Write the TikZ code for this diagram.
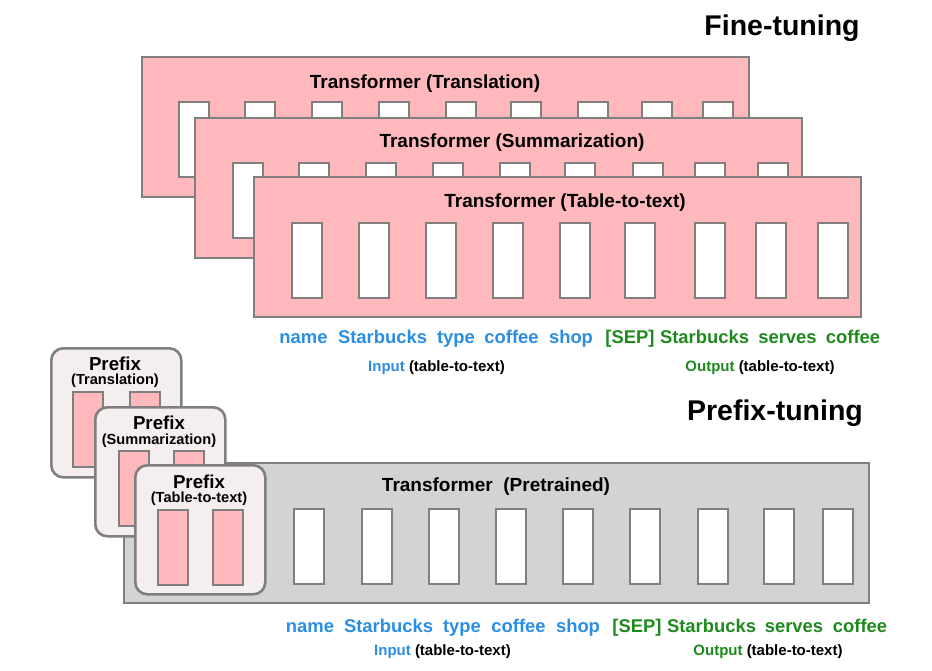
\documentclass[tikz,border=0pt]{standalone}
\usepackage{fontspec}
\setmainfont{Liberation Sans}
\definecolor{pinkfill}{HTML}{FFB8BB}
\definecolor{bordergray}{HTML}{7F7F7F}
\definecolor{prefixfill}{HTML}{F4EEEE}
\definecolor{grayfill}{HTML}{D3D3D3}
\definecolor{inblue}{HTML}{2A8EE2}
\definecolor{outgreen}{HTML}{1E8A1E}
\begin{document}
\begin{tikzpicture}[x=1pt,y=-1pt,
  tbox/.style={draw=bordergray, fill=pinkfill, line width=2pt, anchor=north west,
    minimum width=607pt, minimum height=140pt, inner sep=0pt},
  gbox/.style={tbox, fill=grayfill, minimum width=745pt},
  slot/.style={draw=bordergray, fill=white, line width=1.6pt, anchor=north west,
    minimum width=30pt, minimum height=75pt, inner sep=0pt},
  pslot/.style={slot, fill=pinkfill},
  pbox/.style={draw=bordergray, fill=prefixfill, line width=2.6pt, rounded corners=12pt,
    anchor=north west, minimum width=130pt, minimum height=129pt, inner sep=0pt},
  ttl/.style={font=\bfseries\fontsize{19}{22}\selectfont, inner sep=0pt, anchor=base},
  big/.style={font=\bfseries\fontsize{28.5}{32}\selectfont, inner sep=0pt},
  tok/.style={font=\bfseries\fontsize{18.4}{21}\selectfont, inner sep=0pt, anchor=base},
  intok/.style={tok, text=inblue},
  outtok/.style={tok, text=outgreen},
  lbl/.style={font=\bfseries\fontsize{15}{18}\selectfont, inner sep=0pt, anchor=base},
  pttl/.style={font=\bfseries\fontsize{18.7}{21}\selectfont, inner sep=0pt, anchor=base},
  psub/.style={font=\bfseries\fontsize{14.6}{17}\selectfont, inner sep=0pt, anchor=base},
]
\useasboundingbox (0,0) rectangle (932,670);

% ---------------- Fine-tuning ----------------
\node[big] (ft) at (782,28) {Fine-tuning};

\node[tbox] (tr) at (141,56) {};
\node[ttl] (trt) at (425,88.5) {Transformer (Translation)};
\foreach \o [count=\i] in {37,103,170,237,304,369,436,500,561}
  \node[slot] (tr-s\i) at ({141+\o},101) {};

\node[tbox] (su) at (194,117) {};
\node[ttl] (sut) at (512,147.5) {Transformer (Summarization)};
\foreach \o [count=\i] in {38,104,171,238,305,370,438,500,563}
  \node[slot] (su-s\i) at ({194+\o},162) {};

\node[tbox] (tb) at (253,176) {};
\node[ttl] (tbt) at (565,207.5) {Transformer (Table-to-text)};
\foreach \o [count=\i] in {38,105,172,239,306,371,441,502,564}
  \node[slot] (tb-s\i) at ({253+\o},222) {};

% tokens (fine-tuning)
\node[intok] (a1) at (303.5,343.5) {name};
\node[intok] (a2) at (382.5,343.5) {Starbucks};
\node[intok] (a3) at (456,343.5) {type};
\node[intok] (a4) at (511.5,343.5) {coffee};
\node[intok] (a5) at (571,343.5) {shop};
\node[outtok] (a6) at (630,343.5) {[SEP]};
\node[outtok] (a7) at (704.5,343.5) {Starbucks};
\node[outtok] (a8) at (787.5,343.5) {serves};
\node[outtok] (a9) at (853,343.5) {coffee};
\node[lbl] (ain) at (436.5,371.5) {\textcolor{inblue}{Input} (table-to-text)};
\node[lbl] (aout) at (760,371.5) {\textcolor{outgreen}{Output} (table-to-text)};

% ---------------- Prefix-tuning ----------------
\node[big] (pt) at (775,413) {Prefix-tuning};

\node[gbox] (pre) at (123,462) {};
\node[ttl] (pret) at (496,491.5) {Transformer\ \ (Pretrained)};
\foreach \x [count=\i] in {293,361,428,495,562,629,697,763,822}
  \node[slot] (pre-s\i) at (\x,508) {};

\node[pbox] (p1) at (50,347) {};
\node[pttl] (p1t) at (115,370) {Prefix};
\node[psub] (p1u) at (115,384.5) {(Translation)};
\node[pslot] (p1-a) at (72,391) {};
\node[pslot] (p1-b) at (129,391) {};

\node[pbox] (p2) at (94,406) {};
\node[pttl] (p2t) at (159,429) {Prefix};
\node[psub] (p2u) at (159,444.5) {(Summarization)};
\node[pslot] (p2-a) at (118,450) {};
\node[pslot] (p2-b) at (173,450) {};

\node[pbox] (p3) at (134,464) {};
\node[pttl] (p3t) at (199,488) {Prefix};
\node[psub] (p3u) at (199,502.5) {(Table-to-text)};
\node[pslot] (p3-a) at (157,509) {};
\node[pslot] (p3-b) at (212,509) {};

% tokens (prefix-tuning)
\node[intok] (b1) at (310,632.5) {name};
\node[intok] (b2) at (388.5,632.5) {Starbucks};
\node[intok] (b3) at (462,632.5) {type};
\node[intok] (b4) at (518.5,632.5) {coffee};
\node[intok] (b5) at (578,632.5) {shop};
\node[outtok] (b6) at (637,632.5) {[SEP]};
\node[outtok] (b7) at (711.5,632.5) {Starbucks};
\node[outtok] (b8) at (794,632.5) {serves};
\node[outtok] (b9) at (860,632.5) {coffee};
\node[lbl] (bin) at (442.5,655.5) {\textcolor{inblue}{Input} (table-to-text)};
\node[lbl] (bout) at (768,655.5) {\textcolor{outgreen}{Output} (table-to-text)};
\end{tikzpicture}
\end{document}
